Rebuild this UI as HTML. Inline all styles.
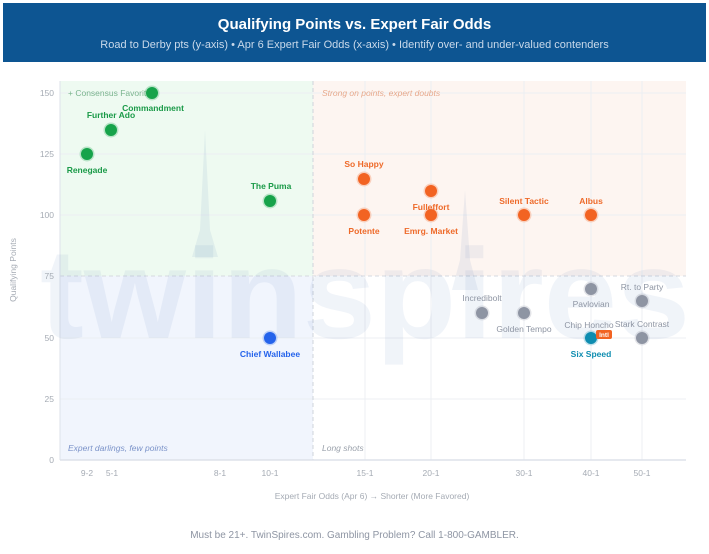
<!DOCTYPE html>
<html><head><meta charset="utf-8"><style>
body{margin:0;background:#fff;width:709px;height:549px;overflow:hidden;font-family:"Liberation Sans",sans-serif}
</style></head><body>
<svg width="709" height="549" xmlns="http://www.w3.org/2000/svg" font-family="Liberation Sans, sans-serif">
<rect x="3" y="3" width="703" height="59" fill="#0d5592"/>
<text x="354.5" y="29" text-anchor="middle" fill="#fff" font-size="15" font-weight="bold">Qualifying Points vs. Expert Fair Odds</text>
<text x="354.5" y="48" text-anchor="middle" fill="#c9d9ea" font-size="11">Road to Derby pts (y-axis) • Apr 6 Expert Fair Odds (x-axis) • Identify over- and under-valued contenders</text>
<rect x="60" y="81" width="253" height="195" fill="#eefaf1"/>
<rect x="313" y="81" width="373" height="195" fill="#fdf5f1"/>
<rect x="60" y="276" width="253" height="184" fill="#f1f5fd"/>
<g stroke="#eceff3" stroke-width="1">
<line x1="60" y1="93" x2="686" y2="93"/><line x1="60" y1="154" x2="686" y2="154"/><line x1="60" y1="215" x2="686" y2="215"/><line x1="60" y1="338" x2="686" y2="338"/><line x1="60" y1="399" x2="686" y2="399"/>
<line x1="365" y1="81" x2="365" y2="460"/><line x1="431" y1="81" x2="431" y2="460"/><line x1="524" y1="81" x2="524" y2="460"/><line x1="591" y1="81" x2="591" y2="460"/><line x1="642" y1="81" x2="642" y2="460"/>
</g>
<line x1="60" y1="276" x2="686" y2="276" stroke="#d5d9e0" stroke-dasharray="4,3"/>
<line x1="313" y1="81" x2="313" y2="460" stroke="#cfd4db" stroke-dasharray="4,3"/>
<line x1="60" y1="81" x2="60" y2="460" stroke="#dde2ea"/>
<line x1="60" y1="460" x2="686" y2="460" stroke="#dde2ea" stroke-width="1.5"/>
<path d="M205 130 L200 230 L192 257 L218 257 L210 230 Z" fill="#1e4fa0" opacity="0.07"/>
<path d="M465 190 L460 260 L452 290 L478 290 L470 260 Z" fill="#1e4fa0" opacity="0.07"/>
<text x="365" y="338" text-anchor="middle" font-size="128" font-weight="bold" fill="#1e4fa0" opacity="0.06" textLength="650" lengthAdjust="spacingAndGlyphs">twinspires</text>
<text x="68" y="96" font-size="8.5" fill="#7bb58e">+ Consensus Favorites</text>
<text x="322" y="96" font-size="8.5" font-style="italic" fill="#e8a98c">Strong on points, expert doubts</text>
<text x="68" y="451" font-size="8.5" font-style="italic" fill="#7b93c9">Expert darlings, few points</text>
<text x="322" y="451" font-size="8.5" font-style="italic" fill="#9aa1ab">Long shots</text>
<g font-size="8.5" fill="#a5abb4" text-anchor="end">
<text x="54" y="96">150</text><text x="54" y="157">125</text><text x="54" y="218">100</text><text x="54" y="279">75</text><text x="54" y="341">50</text><text x="54" y="402">25</text><text x="54" y="463">0</text>
</g>
<text transform="translate(16,270) rotate(-90)" text-anchor="middle" font-size="8.5" fill="#a5abb4">Qualifying Points</text>
<g font-size="8.5" fill="#a5abb4" text-anchor="middle">
<text x="87" y="476">9-2</text><text x="112" y="476">5-1</text><text x="220" y="476">8-1</text><text x="270" y="476">10-1</text><text x="365" y="476">15-1</text><text x="431" y="476">20-1</text><text x="524" y="476">30-1</text><text x="591" y="476">40-1</text><text x="642" y="476">50-1</text>
</g>
<text x="372" y="499" text-anchor="middle" font-size="8.5" fill="#a5abb4">Expert Fair Odds (Apr 6) → Shorter (More Favored)</text>
<g stroke-width="3">
<g fill="#16a34a" stroke="#16a34a" stroke-opacity="0.25">
<circle cx="152" cy="93" r="6"/><circle cx="111" cy="130" r="6"/><circle cx="87" cy="154" r="6"/><circle cx="270" cy="201" r="6"/>
</g>
<circle cx="270" cy="338" r="6" fill="#2563eb" stroke="#2563eb" stroke-opacity="0.25"/>
<g fill="#f26322" stroke="#f26322" stroke-opacity="0.25">
<circle cx="364" cy="179" r="6"/><circle cx="364" cy="215" r="6"/><circle cx="431" cy="191" r="6"/><circle cx="431" cy="215" r="6"/><circle cx="524" cy="215" r="6"/><circle cx="591" cy="215" r="6"/>
</g>
<g fill="#8e95a3" stroke="#8e95a3" stroke-opacity="0.25">
<circle cx="482" cy="313" r="6"/><circle cx="524" cy="313" r="6"/><circle cx="591" cy="289" r="6"/><circle cx="642" cy="301" r="6"/><circle cx="642" cy="338" r="6"/>
</g>
<circle cx="591" cy="338" r="6" fill="#0e8db0" stroke="#0e8db0" stroke-opacity="0.25"/>
</g>
<rect x="596" y="330" width="16" height="9" rx="2" fill="#f26322"/>
<text x="604" y="337" text-anchor="middle" font-size="6.5" font-weight="bold" fill="#fff">Intl</text>
<g font-size="8.5" font-weight="bold" text-anchor="middle">
<g fill="#1a9a48">
<text x="153" y="111">Commandment</text><text x="111" y="118">Further Ado</text><text x="87" y="173">Renegade</text><text x="271" y="189">The Puma</text>
</g>
<text x="270" y="357" fill="#2563eb">Chief Wallabee</text>
<g fill="#ee6a2a">
<text x="364" y="167">So Happy</text><text x="364" y="234">Potente</text><text x="431" y="210">Fulleffort</text><text x="431" y="234">Emrg. Market</text><text x="524" y="204">Silent Tactic</text><text x="591" y="204">Albus</text>
</g>
<text x="591" y="357" fill="#0e8db0">Six Speed</text>
</g>
<g font-size="8.5" text-anchor="middle" fill="#8e95a3">
<text x="482" y="301">Incredibolt</text><text x="524" y="332">Golden Tempo</text><text x="591" y="307">Pavlovian</text><text x="642" y="290">Rt. to Party</text><text x="589" y="328">Chip Honcho</text><text x="642" y="327">Stark Contrast</text>
</g>
<text x="354.5" y="538" text-anchor="middle" font-size="10" fill="#8e95a3">Must be 21+. TwinSpires.com. Gambling Problem? Call 1-800-GAMBLER.</text>
</svg>
</body></html>
